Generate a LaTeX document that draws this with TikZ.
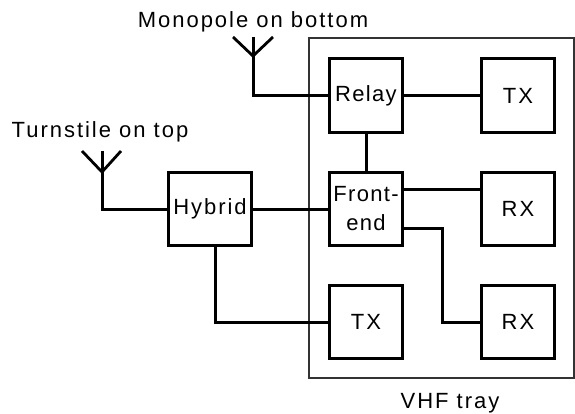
\documentclass[tikz,border=0pt]{standalone}
\usepackage{fontspec}
\setmainfont[LetterSpace=9]{Liberation Sans}
\begin{document}
\begin{tikzpicture}[x=1pt,y=-1pt,
  blk/.style={draw=black,line width=3.4pt,fill=white,minimum width=73.5pt,minimum height=73.5pt,inner sep=0pt,align=center,font=\fontsize{22}{29}\selectfont},
  lbl/.style={inner sep=0pt,font=\fontsize{22}{26}\selectfont},
  wire/.style={draw=black,line width=3pt,line join=miter},
  ant/.style={draw=black,line width=2.8pt},
  tray/.style={draw=black!80,line width=1.2pt}]
\useasboundingbox (0,0) rectangle (575,414);
\node[tray,minimum width=265pt,minimum height=340pt,inner sep=0pt] (trayb) at (441.5,208) {};
\node[blk] (relay) at (366,95.5) {\addfontfeature{LetterSpace=6}Relay};
\node[blk] (txa) at (518,95.5) {TX};
\node[blk] (fe) at (366,209) {\addfontfeature{LetterSpace=6}Front-\\\addfontfeature{LetterSpace=6}end};
\node[blk] (rxa) at (518,209) {RX};
\node[blk] (txb) at (366,322) {TX};
\node[blk] (rxb) at (518,322) {RX};
\node[blk,minimum width=83.5pt] (hyb) at (210,209) {Hybrid};
\node[lbl,anchor=base] (mono) at (253,28) {Monopole on bottom};
\node[lbl,anchor=base] (turn) at (100,138) {Turnstile on top};
\node[lbl,anchor=base] (vhf) at (450,408.5) {VHF tray};
\coordinate (ma) at (253,56);
\coordinate (mt) at (253,37);
\coordinate (ml) at (233,37);
\coordinate (mr) at (273,37);
\coordinate (ta) at (102,172);
\coordinate (tt) at (102,151);
\coordinate (tl) at (82,151);
\coordinate (tr) at (121,151);
\coordinate (bend) at (442,228);
\coordinate (bendb) at (442,322);
\draw[ant] (ml) -- (ma) -- (mr);
\draw[ant] (tl) -- (ta) -- (tr);
\draw[wire] (mt) -- (ma) |- (relay.west);
\draw[wire] (tt) -- (ta) |- (hyb.west);
\draw[wire] (relay.east) -- (txa.west);
\draw[wire] (relay.south) -- (fe.north);
\draw[wire] (hyb.east) -- (fe.west);
\draw[wire] (fe.east |- 0,189) -- (rxa.west |- 0,189);
\draw[wire] (fe.east |- bend) -- (bend) -- (bendb) -- (rxb.west);
\draw[wire] (hyb.south -| 215,0) |- (txb.west);
\end{tikzpicture}
\end{document}
